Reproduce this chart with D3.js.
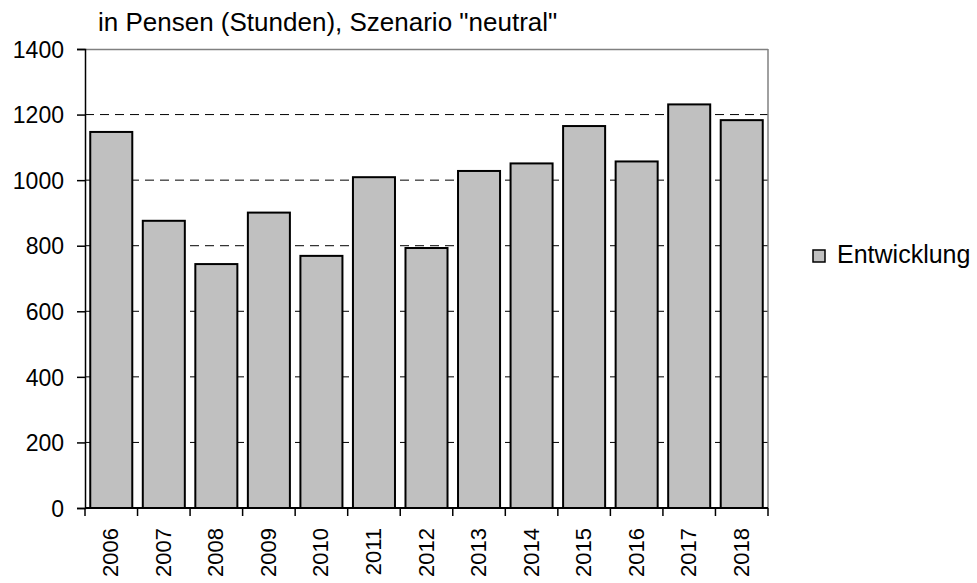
<!DOCTYPE html>
<html>
<head>
<meta charset="utf-8">
<script src="https://cdn.jsdelivr.net/npm/d3@7"></script>
<style>
  body { margin: 0; background: #fff; }
  text { font-family: "Liberation Sans", Arial, sans-serif; fill: #000; }
</style>
</head>
<body>
<svg id="chart" width="977" height="583"></svg>
<script>
// data
var years = ["2006","2007","2008","2009","2010","2011","2012","2013","2014","2015","2016","2017","2018"];
var entwicklung = [1147, 876, 744, 901, 769, 1009, 793, 1028, 1051, 1165, 1057, 1231, 1183];
var yTicks = [0, 200, 400, 600, 800, 1000, 1200, 1400];
var seriesName = "Entwicklung";
var title = 'in Pensen (Stunden), Szenario "neutral"';

var margin = {left: 85, top: 49, right: 209, bottom: 75};
var width = 977 - margin.left - margin.right,
    height = 583 - margin.top - margin.bottom;

var svg = d3.select("#chart");
var g = svg.append("g").attr("transform", "translate(" + margin.left + "," + margin.top + ")");

var x = d3.scaleBand().domain(years).range([0, width]).paddingInner(0.2).paddingOuter(0.1);
var y = d3.scaleLinear().domain([0, 1400]).range([height, 0]);

// gridlines
g.selectAll(".grid").data(yTicks.filter(function(d){ return d > 0 && d < 1400; }))
  .enter().append("line")
  .attr("x1", 0).attr("x2", width)
  .attr("y1", function(d){ return y(d); }).attr("y2", function(d){ return y(d); })
  .attr("stroke", "#000").attr("stroke-width", 1).attr("stroke-dasharray", "9,6");

// frame top + right
g.append("line").attr("x1", 0).attr("x2", width).attr("y1", 0.5).attr("y2", 0.5)
  .attr("stroke", "#808080").attr("stroke-width", 1.5);
g.append("line").attr("x1", width).attr("x2", width).attr("y1", 0).attr("y2", height)
  .attr("stroke", "#808080").attr("stroke-width", 1.5);

// bars
g.selectAll(".bar").data(entwicklung).enter().append("rect")
  .attr("x", function(d, i){ return x(years[i]); })
  .attr("y", function(d){ return y(d); })
  .attr("width", x.bandwidth())
  .attr("height", function(d){ return height - y(d); })
  .attr("fill", "#c0c0c0").attr("stroke", "#000").attr("stroke-width", 2);

// y axis
var yAxis = g.append("g").call(d3.axisLeft(y).tickValues(yTicks).tickFormat(d3.format("d")).tickSize(8).tickPadding(13));
yAxis.select(".domain").attr("stroke", "#000").attr("stroke-width", 1.5);
yAxis.selectAll("line").attr("stroke", "#000").attr("stroke-width", 1.5);
yAxis.selectAll("text").style("font-size", "23px").attr("dy", "0.36em");

// x axis with ticks at category boundaries
var xb = g.append("g").attr("transform", "translate(0," + height + ")");
xb.append("line").attr("x1", 0).attr("x2", width).attr("stroke", "#000").attr("stroke-width", 2);
var bounds = d3.range(years.length + 1).map(function(i){ return i * width / years.length; });
xb.selectAll(".tk").data(bounds).enter().append("line")
  .attr("x1", function(d){ return d; }).attr("x2", function(d){ return d; })
  .attr("y1", 0).attr("y2", 8).attr("stroke", "#000").attr("stroke-width", 1.5);
xb.selectAll(".lbl").data(years).enter().append("text")
  .attr("transform", function(d){ return "translate(" + (x(d) + x.bandwidth() / 2 + 7) + ",20) rotate(-90)"; })
  .attr("text-anchor", "end")
  .style("font-size", "22px")
  .text(function(d){ return d; });

// title
svg.append("text").attr("x", 98).attr("y", 31).style("font-size", "26px").text(title);

// legend
var lg = svg.append("g").attr("transform", "translate(813,250)");
lg.append("rect").attr("width", 12).attr("height", 12)
  .attr("fill", "#c0c0c0").attr("stroke", "#000").attr("stroke-width", 1.5);
lg.append("text").attr("x", 24).attr("y", 13).style("font-size", "25px").text(seriesName);
</script>
</body>
</html>
